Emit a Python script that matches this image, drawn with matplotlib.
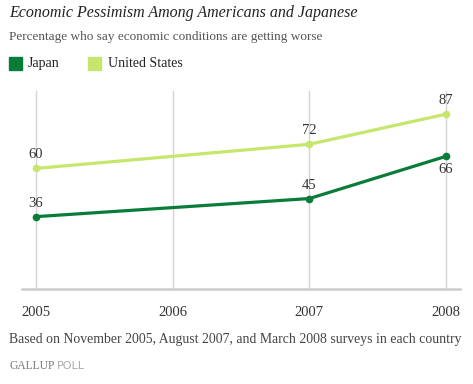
from matplotlib import pyplot as plt
from matplotlib.patches import Rectangle

# data
years = [2005, 2007, 2008]
japan = [36, 45, 66]
usa = [60, 72, 87]
tick_years = [2005, 2006, 2007, 2008]

japan_color = '#0a7c3a'
usa_color = '#c6e66c'
text_color = '#333333'

plt.rcParams['font.family'] = ['Liberation Serif', 'DejaVu Serif']

fig = plt.figure(figsize=(4.73, 3.84), dpi=100)
ax = fig.add_axes([22/473, 1 - 289/384, 438/473, 201/384])

ax.set_xlim(2005 - 14/136.67, 2008 + 14/136.67)
ax.set_ylim(0, 100)

for yr in tick_years:
    ax.axvline(yr, ymin=0, ymax=0.985, color='#d4d4d4', lw=1, zorder=0)

ax.plot(years, usa, color=usa_color, lw=2.3, marker='o', ms=4.5, zorder=3)
ax.plot(years, japan, color=japan_color, lw=2.3, marker='o', ms=4.5, zorder=3)

# value labels
for x, v in zip(years, usa):
    ax.annotate(str(v), (x, v), xytext=(0, 5), textcoords='offset points',
                ha='center', va='bottom', fontsize=10.5, color=text_color)
for x, v in zip(years[:2], japan[:2]):
    ax.annotate(str(v), (x, v), xytext=(0, 5), textcoords='offset points',
                ha='center', va='bottom', fontsize=10.5, color=text_color)
ax.annotate(str(japan[2]), (years[2], japan[2]), xytext=(0, -5), textcoords='offset points',
            ha='center', va='top', fontsize=10.5, color=text_color)

for s in ['top', 'right', 'left']:
    ax.spines[s].set_visible(False)
ax.spines['bottom'].set_color('#cccccc')
ax.spines['bottom'].set_linewidth(1.8)
ax.set_yticks([])
ax.set_xticks(tick_years)
ax.set_xticklabels([str(y) for y in tick_years], fontsize=10.5, color=text_color)
ax.tick_params(axis='x', length=0, pad=12)

# header
fig.text(9/473, 1 - 17/384, 'Economic Pessimism Among Americans and Japanese',
         fontsize=11.5, style='italic', color='#222222', va='baseline')
fig.text(9/473, 1 - 40/384, 'Percentage who say economic conditions are getting worse',
         fontsize=9.5, color='#555555', va='baseline')

# legend
fig.patches.append(Rectangle((9/473, 1 - 70/384), 13/473, 13/384,
                             transform=fig.transFigure, color=japan_color))
fig.text(28/473, 1 - 67/384, 'Japan', fontsize=10, color='#222222', va='baseline')
fig.patches.append(Rectangle((88/473, 1 - 70/384), 13/473, 13/384,
                             transform=fig.transFigure, color=usa_color))
fig.text(108/473, 1 - 67/384, 'United States', fontsize=10, color='#222222', va='baseline')

# footer
fig.text(9/473, 1 - 343/384,
         'Based on November 2005, August 2007, and March 2008 surveys in each country',
         fontsize=9.9, color='#444444', va='baseline')
fig.text(9/473, 1 - 369/384, 'GALLUP', fontsize=8.3, color='#777777', va='baseline')
fig.text(57/473, 1 - 369/384, 'POLL', fontsize=8, color='#aaaaaa', va='baseline',
         family='DejaVu Sans')

fig.savefig('out.png', dpi=100)
